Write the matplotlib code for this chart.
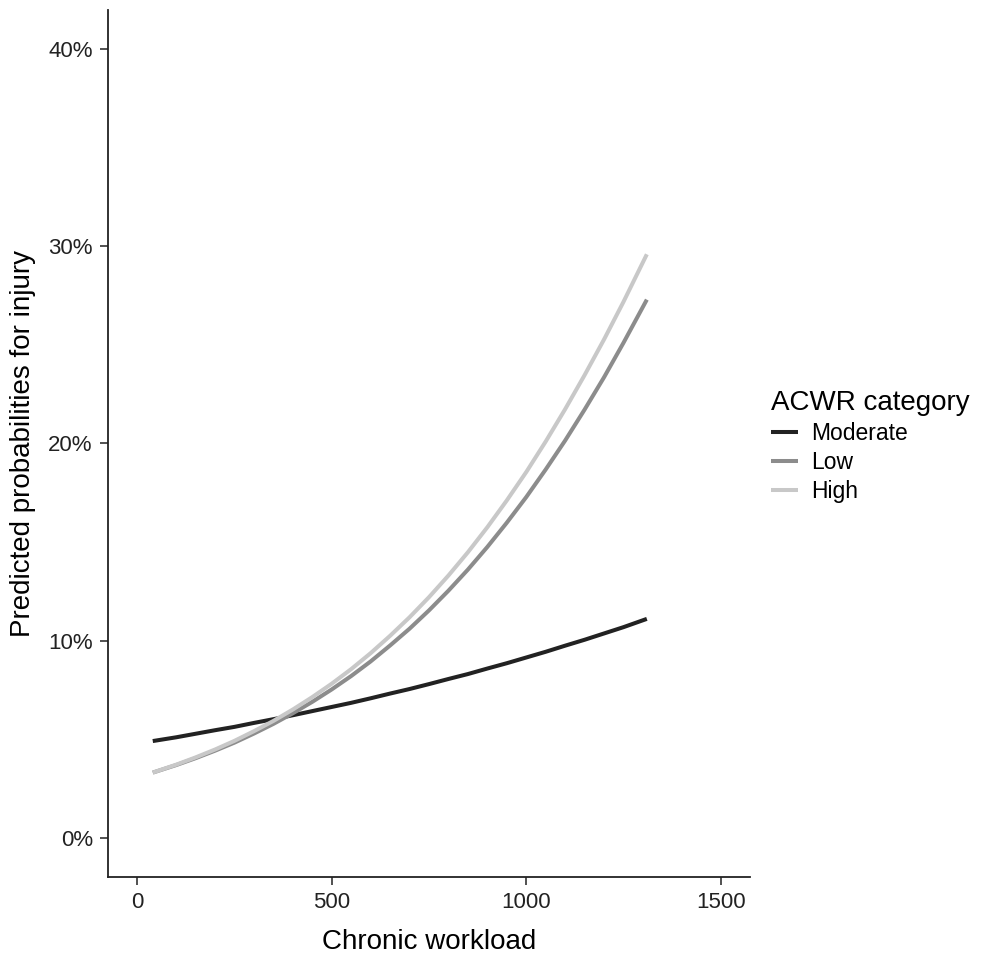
import matplotlib
matplotlib.use("Agg")
import matplotlib.pyplot as plt
from matplotlib.ticker import FuncFormatter

# chronic workload values where curves were read
workload = [40, 100, 150, 200, 250, 300, 350, 400, 450, 500, 550, 600, 650, 700,
            750, 800, 850, 900, 950, 1000, 1050, 1100, 1150, 1200, 1250, 1310]

# predicted probabilities (%) per ACWR category
moderate = [4.90, 5.09, 5.27, 5.45, 5.62, 5.82, 6.01, 6.21, 6.42, 6.63, 6.84, 7.07, 7.31,
            7.54, 7.79, 8.05, 8.30, 8.58, 8.85, 9.14, 9.43, 9.74, 10.04, 10.36, 10.68, 11.1]
low = [3.30, 3.68, 4.03, 4.41, 4.82, 5.28, 5.77, 6.31, 6.89, 7.52, 8.20, 8.94, 9.75,
       10.60, 11.53, 12.53, 13.60, 14.75, 15.98, 17.28, 18.68, 20.15, 21.72, 23.36, 25.11, 27.3]
high = [3.30, 3.70, 4.07, 4.47, 4.91, 5.40, 5.92, 6.50, 7.13, 7.81, 8.55, 9.36, 10.24,
        11.18, 12.20, 13.30, 14.48, 15.75, 17.11, 18.55, 20.10, 21.74, 23.47, 25.28, 27.19, 29.6]

series = [("Moderate", moderate, "#222222"),
          ("Low", low, "#8c8c8c"),
          ("High", high, "#c8c8c8")]

x_ticks = [0, 500, 1000, 1500]
y_ticks = [0, 10, 20, 30, 40]

plt.rcParams['font.family'] = ['Liberation Sans', 'DejaVu Sans']

fig = plt.figure(figsize=(9.83, 9.56), dpi=100)
ax = fig.add_axes([0.1099, 0.0826, 0.653, 0.907])

for name, vals, col in series:
    ax.plot(workload, vals, color=col, lw=2.9, label=name, solid_capstyle='butt')

ax.set_xlim(-75, 1575)
ax.set_ylim(-2, 42)
ax.set_xticks(x_ticks)
ax.set_yticks(y_ticks)
ax.yaxis.set_major_formatter(FuncFormatter(lambda v, p: f"{v:.0f}%"))

for side in ['top', 'right']:
    ax.spines[side].set_visible(False)
for side in ['left', 'bottom']:
    ax.spines[side].set_linewidth(1.3)
    ax.spines[side].set_color('#222222')
ax.tick_params(length=6, width=1.2, color='#333333', labelsize=16,
               labelcolor='#222222', pad=5)

ax.set_xlabel("Chronic workload", fontsize=20, labelpad=11)
ax.set_ylabel("Predicted probabilities for injury", fontsize=20, labelpad=9)

leg = ax.legend(loc='upper left', bbox_to_anchor=(0.784, 0.592),
                bbox_transform=fig.transFigure, frameon=False,
                title="ACWR category", title_fontsize=20, fontsize=16.5,
                handlelength=1.2, handletextpad=0.55, labelspacing=0.26,
                borderaxespad=0, borderpad=0)
leg._legend_box.align = "left"

fig.savefig("out.png", dpi=100)
